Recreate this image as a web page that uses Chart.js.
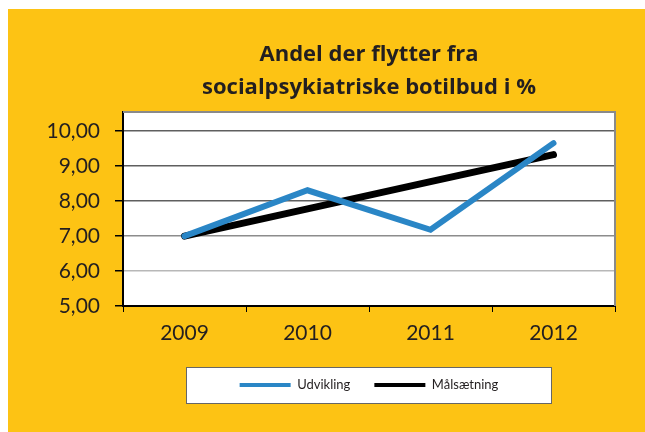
<!DOCTYPE html>
<html>
<head>
<meta charset="utf-8">
<script src="https://cdn.jsdelivr.net/npm/chart.js@4/dist/chart.umd.min.js"></script>
<style>
    html, body { margin: 0; padding: 0; background: #ffffff; }
    #wrap { width: 645px; height: 432px; position: relative; }
</style>
</head>
<body>
<div id="wrap"><canvas id="chart"></canvas></div>
<script>
// data
const years = ['2009', '2010', '2011', '2012'];
const udvikling = [7.0, 8.31, 7.18, 9.66];
const maalsaetning = [7.0, 7.78, 8.56, 9.33];
const yTicks = [5, 6, 7, 8, 9, 10];
const titleLines = ['Andel der flytter fra', 'socialpsykiatriske botilbud i %'];

const YELLOW = '#fdc314';
const BLUE = '#2a86c6';
const TEXT = '#231f20';

// baggrund, hvid plotflade og legend-boks
const backdrop = {
    id: 'backdrop',
    beforeDraw(chart) {
        const {ctx, chartArea: a} = chart;
        ctx.save();
        ctx.fillStyle = YELLOW;
        ctx.fillRect(8, 9, chart.width - 8, chart.height - 9);
        ctx.fillStyle = '#ffffff';
        ctx.fillRect(a.left, a.top, a.right - a.left, a.bottom - a.top);
        // legend box
        ctx.fillRect(186, 367, 365, 36);
        ctx.strokeStyle = '#666666';
        ctx.lineWidth = 1;
        ctx.strokeRect(186.5, 367.5, 365, 36);
        ctx.restore();
    },
    afterDraw(chart) {
        const {ctx, chartArea: a} = chart;
        ctx.save();
        ctx.strokeStyle = '#8a8a8a';
        ctx.lineWidth = 2;
        ctx.beginPath();
        ctx.moveTo(a.left, a.top);
        ctx.lineTo(a.right, a.top);
        ctx.lineTo(a.right, a.bottom);
        ctx.stroke();
        ctx.restore();
    }
};

function gridColor(ctx) {
    const v = ctx.tick ? ctx.tick.value : 0;
    if (v >= 8) return '#5f5f5f';
    if (v === 7) return '#8c8c8c';
    return '#b8b8b8';
}

new Chart(document.getElementById('chart'), {
    type: 'line',
    data: {
        labels: years,
        datasets: [
            {
                label: 'Udvikling',
                data: udvikling,
                borderColor: BLUE,
                backgroundColor: BLUE,
                borderWidth: 6,
                borderCapStyle: 'round',
                borderJoinStyle: 'miter',
                pointRadius: 0,
                tension: 0
            },
            {
                label: 'Målsætning',
                data: maalsaetning,
                borderColor: '#000000',
                backgroundColor: '#000000',
                borderWidth: 7,
                borderCapStyle: 'round',
                borderJoinStyle: 'round',
                pointRadius: 0,
                tension: 0
            }
        ]
    },
    options: {
        responsive: true,
        maintainAspectRatio: false,
        animation: false,
        layout: { padding: { top: 0, left: 40, right: 30, bottom: 30.5 } },
        plugins: {
            title: {
                display: true,
                fullSize: false,
                text: titleLines,
                color: TEXT,
                font: { family: 'Open Sans', size: 22, weight: 'bold', lineHeight: 1.5 },
                padding: { top: 38, bottom: 8 }
            },
            legend: {
                position: 'bottom',
                fullSize: false,
                labels: {
                    color: TEXT,
                    font: { family: 'Lato', size: 13 },
                    boxWidth: 51,
                    boxHeight: 4,
                    padding: 24,
                    // tynd streg i stedet for boks
                    generateLabels(chart) {
                        return Chart.defaults.plugins.legend.labels.generateLabels(chart)
                            .map(item => ({...item, lineWidth: 0}));
                    }
                }
            },
            tooltip: { enabled: false }
        },
        scales: {
            x: {
                offset: true,
                grid: {
                    display: true,
                    offset: true,
                    drawOnChartArea: false,
                    drawTicks: true,
                    tickLength: 6,
                    tickColor: '#000000'
                },
                border: { color: '#000000', width: 2 },
                ticks: {
                    color: TEXT,
                    font: { family: 'Lato', size: 21 },
                    padding: 9
                },
                afterFit(scale) { scale.height = 48.5; }
            },
            y: {
                min: 5,
                max: 10.55,
                grid: {
                    color: gridColor,
                    lineWidth: 1.5,
                    drawTicks: true,
                    tickLength: 8,
                    tickColor: '#000000'
                },
                border: { color: '#000000', width: 2 },
                ticks: {
                    stepSize: 1,
                    color: TEXT,
                    font: { family: 'Lato', size: 21 },
                    padding: 15,
                    callback: (v) => Number(v).toFixed(2).replace('.', ',')
                },
                afterBuildTicks(scale) {
                    scale.ticks = yTicks.map(v => ({ value: v }));
                },
                afterFit(scale) { scale.width = 83; }
            }
        }
    },
    plugins: [backdrop]
});
</script>
</body>
</html>
